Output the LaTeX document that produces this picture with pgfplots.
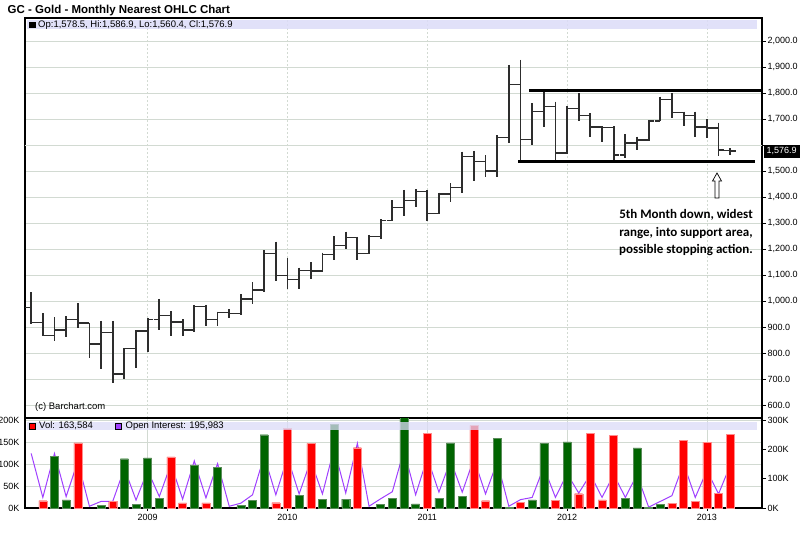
\documentclass[border=0pt]{standalone}
\usepackage{fontspec}
\setmainfont{Liberation Sans}
\newfontfamily\annfont{Carlito}
\usepackage{pgfplots}
\usepackage{pgfplotstable}
\pgfplotsset{compat=1.18}

\definecolor{gridc}{RGB}{210,218,210}
\definecolor{vred}{RGB}{255,0,0}
\definecolor{vredEdge}{RGB}{255,140,140}
\definecolor{vgreen}{RGB}{0,100,0}
\definecolor{vgreenEdge}{RGB}{90,140,90}
\definecolor{oic}{RGB}{160,64,255}
\definecolor{stripc}{RGB}{220,220,248}
\definecolor{barc}{RGB}{45,45,45}

\pgfdeclareplotmark{otick}{\pgfpathmoveto{\pgfpoint{-5.8bp}{0pt}}\pgfpathlineto{\pgfpoint{0pt}{0pt}}\pgfusepathqstroke}
\pgfdeclareplotmark{ctick}{\pgfpathmoveto{\pgfpoint{0pt}{0pt}}\pgfpathlineto{\pgfpoint{5.8bp}{0pt}}\pgfusepathqstroke}

% month index m: 0 = Jan 2009
\pgfplotstableread{
m O H L C
-10 975 1034 913 917
-9 917 953 865 867
-8 867 938 846 888
-7 888 942 860 930
-6 930 991 895 915
-5 915 917 782 835
-4 835 924 737 878
-3 878 924 683 719
-2 719 818 700 818
-1 818 888 741 884
0 884 933 805 928
1 928 1008 888 944
2 944 960 866 920
3 920 929 867 888
4 888 985 880 979
5 979 985 905 928
6 928 959 905 955
7 955 969 933 953
8 953 1026 946 1008
9 1008 1072 988 1042
10 1042 1196 1034 1183
11 1183 1228 1077 1097
12 1097 1164 1045 1083
13 1083 1128 1045 1118
14 1118 1149 1085 1115
15 1115 1186 1113 1180
16 1180 1250 1158 1214
17 1214 1267 1200 1245
18 1245 1247 1158 1182
19 1182 1254 1181 1248
20 1248 1315 1237 1310
21 1310 1388 1308 1359
22 1359 1427 1327 1387
23 1387 1430 1360 1421
24 1421 1427 1309 1337
25 1337 1417 1333 1411
26 1411 1453 1382 1437
27 1437 1575 1414 1556
28 1556 1577 1462 1536
29 1536 1560 1478 1500
30 1500 1638 1478 1628
31 1628 1908 1609 1833
32 1833 1927 1536 1622
33 1622 1760 1600 1728
34 1728 1805 1670 1747
35 1747 1767 1530 1570
36 1570 1750 1565 1741
37 1741 1799 1694 1713
38 1713 1722 1632 1670
39 1670 1673 1613 1668
40 1668 1673 1530 1562
41 1562 1641 1549 1607
42 1607 1632 1580 1619
43 1619 1696 1617 1693
44 1693 1786 1693 1776
45 1776 1799 1703 1724
46 1724 1728 1673 1713
47 1713 1728 1630 1670
48 1670 1699 1626 1666
49 1666 1686 1558 1581
50 1578.5 1586.9 1560.4 1576.9
}\ohlc

\pgfplotstableread{
m v
-9 16.5
-6 148
-3 14.5
2 116
3 11.5
5 11.5
11 12
12 181
14 147
18 137
24 169
28 188
29 16.5
32 13
35 17
37 32.5
38 169
39 18.5
40 165
45 10.5
46 154
47 14.5
48 149
49 33
50 167
}\volred

\pgfplotstableread{
m v
-8 118
-7 18.5
-4 6
-2 112
-1 8
0 114
1 22.5
4 97.5
6 92
8 5.5
9 18
10 166.5
13 28.5
15 19.5
16 189.5
17 20
20 8
21 22.5
22 210
23 9.5
25 22.5
26 148
27 27
30 158
31 2
33 18.5
34 147
36 150.5
41 22.5
42 136.5
43 1.5
44 8
}\volgreen

\pgfplotstableread{
m oi
-10 186
-9 36
-8 186
-7 39
-6 157.5
-5 6
-4 22.5
-3 22.5
-2 135
-1 27
0 127.5
1 39
2 150
3 30
4 160.5
5 34.5
6 151.5
7 6
8 16.5
9 45
10 177
11 45
12 172.5
13 48
14 162
15 48
16 202.5
17 51
18 220.5
19 6
20 31.5
21 55.5
22 196.5
23 45
24 171
25 54
26 162
27 54
28 168
29 48
30 157.5
31 6
32 28.5
33 36
34 139.5
35 36
36 117
37 51
38 114
39 36
40 114
41 36
42 114
43 3
44 22.5
45 42
46 151.5
47 36
48 127.5
49 48
50 145.5
}\oidata

\pgfplotsset{
  common/.style={
    scale only axis, width=737bp,
    xmin=-10.53, xmax=52.73,
    /pgf/number format/assume math mode=true,
    tick label style={font=\fontsize{9bp}{10bp}\selectfont},
    tick align=outside, major tick length=4bp,
  },
}

\begin{document}
\begin{tikzpicture}
\fill[white] (0,0) rectangle (800bp,-544bp);
\useasboundingbox (0,0) rectangle (800bp,-544bp);

\node[anchor=west, inner sep=0, font=\bfseries\fontsize{11.5bp}{13bp}\selectfont] at (7.5bp,-11bp) {GC - Gold - Monthly Nearest OHLC Chart};

% ---------- price panel ----------
\begin{axis}[common,
  at={(25bp,-18bp)}, anchor=north west, height=400bp,
  ymin=550, ymax=2088.5,
  axis line style={line width=1.2bp, black},
  xtick={0,12,24,36,48}, xticklabels={}, xtick style={draw=none},
  xmajorgrids, major x grid style={gridc, dash pattern=on 2bp off 2bp, line width=0.8bp},
  ytick={600,700,800,900,1000,1100,1200,1300,1400,1500,1700,1800,1900,2000},
  extra y ticks={1600}, extra y tick labels={},
  extra y tick style={ymajorgrids, major y grid style={gridc, line width=0.8bp}},
  ymajorgrids, major y grid style={gridc, line width=0.8bp},
  ytick pos=right, yticklabel pos=right,
  ytick style={black, line width=0.6bp},
  yticklabel style={xshift=-2bp},
  yticklabel={\pgfmathprintnumber[fixed,fixed zerofill,precision=1,1000 sep={,}]{\tick}},
]
\addplot[draw=none, mark=none, forget plot,
  error bars/.cd, y dir=minus, y explicit, error mark=none,
  error bar style={draw=barc, line width=1.8bp}]
  table[x=m, y=H, y error expr=\thisrow{H}-\thisrow{L}] {\ohlc};
\addplot[only marks, mark=otick, mark options={draw=barc, line width=1.4bp}] table[x=m, y=O] {\ohlc};
\addplot[only marks, mark=ctick, mark options={draw=barc, line width=1.4bp}] table[x=m, y=C] {\ohlc};
% support / resistance
\addplot[black, line width=3bp] coordinates {(32.73,1808) (53,1808)};
\addplot[black, line width=3bp] coordinates {(31.8,1536) (52.1,1536)};
% legend strip
\fill[stripc, opacity=0.85] ([xshift=2bp,yshift=-1.5bp]rel axis cs:0,1) rectangle ([xshift=-5bp,yshift=-11bp]rel axis cs:1,1);
\draw[black, fill=black] ([xshift=4.5bp,yshift=-4.5bp]rel axis cs:0,1) rectangle ([xshift=10.5bp,yshift=-9.5bp]rel axis cs:0,1);
\node[anchor=west, inner sep=0, font=\fontsize{9.5bp}{10bp}\selectfont] at ([xshift=13bp,yshift=-6.8bp]rel axis cs:0,1) {Op:1,578.5, Hi:1,586.9, Lo:1,560.4, Cl:1,576.9};
\node[anchor=west, inner sep=0, font=\fontsize{9.5bp}{10bp}\selectfont] at ([xshift=10bp,yshift=11bp]rel axis cs:0,0) {(c) Barchart.com};
\end{axis}

% ---------- volume panel: grid, labels ----------
\begin{axis}[common,
  at={(25bp,-418bp)}, anchor=north west, height=90bp,
  ymin=0, ymax=204.5,
  axis line style={line width=1.2bp, black},
  ytick={0,50,100,150,200}, yticklabels={0K,50K,100K,150K,200K},
  ymajorgrids, major y grid style={gridc, line width=0.8bp},
  ytick pos=left, ytick style={draw=none},
  yticklabel style={xshift=1bp},
  xtick={0,12,24,36,48}, xticklabels={2009,2010,2011,2012,2013},
  xmajorgrids, major x grid style={gridc, line width=0.8bp},
  xtick pos=bottom, xtick style={black, line width=0.6bp}, major tick length=3bp,
]
\end{axis}

% ---------- open interest (right scale) ----------
\begin{axis}[common,
  at={(25bp,-418bp)}, anchor=north west, height=90bp,
  ymin=0, ymax=306.8,
  axis x line=none, axis y line*=right,
  axis line style={line width=1.2bp, black},
  ytick={0,100,200,300}, yticklabels={0K,100K,200K,300K},
  ytick style={black, line width=0.6bp},
  yticklabel style={xshift=-2bp},
]
\addplot[oic, line width=1bp] table[x=m, y=oi] {\oidata};
\end{axis}

% ---------- volume bars ----------
\begin{axis}[common,
  at={(25bp,-418bp)}, anchor=north west, height=90bp,
  ymin=0, ymax=204.5, hide axis,
]
\addplot[ybar, bar width=8bp, bar shift=0pt, fill=vred, draw=vredEdge, line width=0.4bp] table[x=m, y=v] {\volred};
\addplot[ybar, bar width=8bp, bar shift=0pt, fill=vgreen, draw=vgreenEdge, line width=0.4bp] table[x=m, y=v] {\volgreen};
\fill[stripc, opacity=0.75] ([xshift=2bp,yshift=-3.5bp]rel axis cs:0,1) rectangle ([xshift=-5bp,yshift=-12bp]rel axis cs:1,1);
\draw[black, fill=vred, line width=0.6bp] ([xshift=4.5bp,yshift=-4.8bp]rel axis cs:0,1) rectangle ([xshift=10.5bp,yshift=-10.8bp]rel axis cs:0,1);
\node[anchor=west, inner sep=0, font=\fontsize{9.5bp}{10bp}\selectfont] at ([xshift=14bp,yshift=-7.8bp]rel axis cs:0,1) {Vol: 163,584};
\draw[black, fill=oic, line width=0.6bp] ([xshift=90bp,yshift=-4.8bp]rel axis cs:0,1) rectangle ([xshift=96bp,yshift=-10.8bp]rel axis cs:0,1);
\node[anchor=west, inner sep=0, font=\fontsize{9.5bp}{10bp}\selectfont] at ([xshift=100.5bp,yshift=-7.8bp]rel axis cs:0,1) {Open Interest: 195,983};
\end{axis}

% current price tag
\node[fill=black, text=white, anchor=west, inner sep=0, minimum width=36bp, minimum height=13bp, font=\fontsize{9bp}{10bp}\selectfont] at (763.5bp,-151.3bp) {1,576.9};

% annotation arrow and text
\draw[black, line width=0.7bp, fill=white] (717bp,-173bp) -- (721.5bp,-181bp) -- (719bp,-181bp) -- (719bp,-198bp) -- (715bp,-198bp) -- (715bp,-181bp) -- (712.5bp,-181bp) -- cycle;
\node[align=center, inner sep=0, font=\annfont\bfseries\fontsize{13bp}{17.5bp}\selectfont] at (686bp,-233bp) {5th Month down, widest\\range, into support area,\\possible stopping action.};
\end{tikzpicture}
\end{document}
